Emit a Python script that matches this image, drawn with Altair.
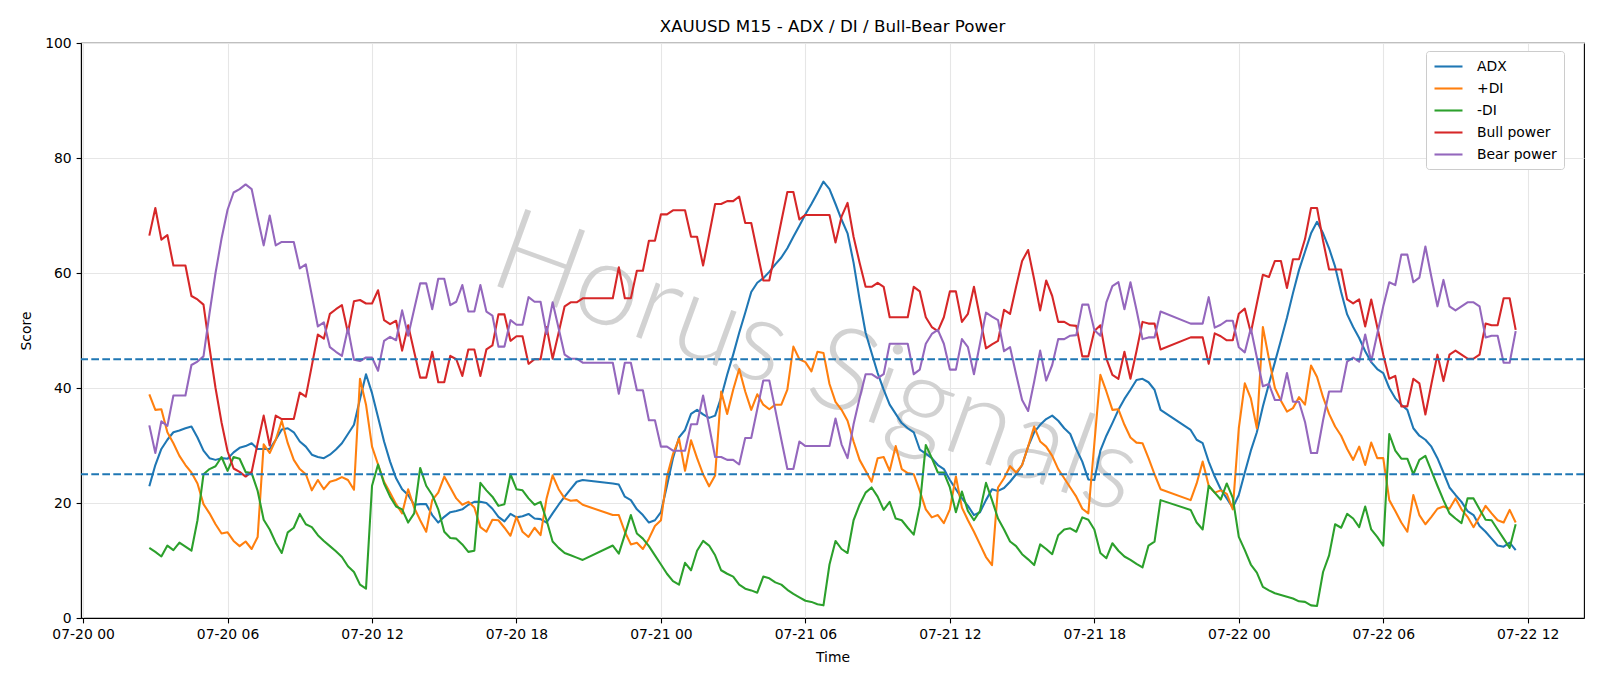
import altair as alt
import pandas as pd

TITLE = "XAUUSD M15 - ADX / DI / Bull-Bear Power"
WATERMARK = "Horus Signals"
SERIES = ["ADX", "+DI", "-DI", "Bull power", "Bear power"]
COLORS = ["#1f77b4", "#ff7f0e", "#2ca02c", "#d62728", "#9467bd"]
# M15 bars, three trading sessions (daily break 21:00-21:45)
SESSIONS = [("2025-07-20 02:45", "2025-07-20 20:45"),
            ("2025-07-20 22:00", "2025-07-21 20:45"),
            ("2025-07-21 22:00", "2025-07-22 11:30")]
LEVELS = [25, 45]
Y_TICKS = [0, 20, 40, 60, 80, 100]
X_TICKS = ["2025-07-20 00:00", "2025-07-20 06:00", "2025-07-20 12:00", "2025-07-20 18:00",
           "2025-07-21 00:00", "2025-07-21 06:00", "2025-07-21 12:00", "2025-07-21 18:00",
           "2025-07-22 00:00", "2025-07-22 06:00", "2025-07-22 12:00"]
X_RANGE = ["2025-07-19 23:54:45", "2025-07-22 14:20:15"]

# one row per hour (:00 :15 :30 :45)
ADX = [
    22.9,
    26.6, 29.4, 31.0, 32.3,
    32.6, 33.0, 33.3, 31.4,
    29.1, 27.8, 27.5, 27.8,
    27.7, 28.8, 29.6, 29.9,
    30.4, 29.4, 29.4, 29.4,
    31.0, 32.8, 33.0, 32.3,
    30.7, 29.8, 28.4, 28.0,
    27.8, 28.4, 29.3, 30.4,
    32.0, 33.6, 38.1, 42.4,
    39.1, 34.9, 30.7, 27.2,
    24.3, 22.4, 21.4, 19.7,
    19.8, 19.8, 17.9, 16.6,
    17.6, 18.4, 18.6, 18.9,
    19.7, 20.2, 20.2, 20.0,
    19.0, 17.6, 16.8, 18.1,
    17.5, 17.7, 18.1, 17.3,
    17.2, 16.6, 18.2, 19.7,
    21.1, 22.4, 23.7, 24.0,
    # session 2
    23.4, 23.2, 21.1, 20.5,
    18.9, 17.9, 16.6, 17.0,
    18.4, 23.0, 27.8, 31.4,
    32.7, 35.5, 36.2, 35.4,
    34.8, 35.2, 38.4, 42.3,
    45.8, 49.6, 53.1, 56.7,
    58.3, 59.1, 60.2, 61.5,
    62.7, 64.3, 66.3, 68.2,
    70.2, 72.0, 73.9, 75.9,
    74.6, 72.0, 69.3, 66.9,
    61.8, 55.4, 49.6, 46.1,
    42.6, 39.7, 37.1, 35.5,
    33.9, 33.0, 32.3, 29.3,
    28.6, 27.8, 26.6, 25.9,
    24.0, 22.4, 20.8, 19.5,
    17.9, 18.4, 20.5, 22.4,
    22.1, 22.6, 23.7, 25.0,
    26.6, 29.8, 32.3, 33.6,
    34.6, 35.2, 34.3, 33.0,
    32.0, 29.4, 27.2, 24.1,
    24.0, 29.1, 31.7, 33.9,
    36.2, 38.1, 39.7, 41.4,
    41.6, 41.0, 39.7, 36.2,
    # session 3
    32.7, 31.0, 30.4, 27.2,
    24.6, 22.4, 20.8, 19.2,
    21.4, 25.3, 29.1, 32.3,
    36.8, 40.7, 44.5, 48.3,
    52.2, 56.5, 60.5, 63.7,
    66.9, 68.9, 66.9, 64.3,
    61.1, 56.7, 52.8, 50.6,
    48.7, 46.4, 44.5, 43.3,
    42.6, 40.0, 38.2, 37.1,
    36.2, 33.0, 31.7, 31.0,
    29.8, 27.8, 25.3, 22.7,
    21.4, 20.2, 18.6, 17.9,
    16.0, 15.0, 13.8, 12.6,
    12.4, 13.1, 11.8,
]

PLUS_DI = [
    38.9,
    36.2, 36.3, 32.3, 30.4,
    28.2, 26.6, 25.3, 23.4,
    19.8, 18.2, 16.3, 14.7,
    14.9, 13.4, 12.5, 13.3,
    12.0, 14.1, 30.2, 28.7,
    31.0, 34.3, 30.4, 27.5,
    25.9, 25.0, 22.2, 24.0,
    22.4, 23.7, 24.0, 24.5,
    24.0, 22.3, 41.6, 37.1,
    29.8, 26.7, 23.7, 21.8,
    19.8, 18.2, 22.4, 19.2,
    17.0, 15.0, 20.5, 21.8,
    24.6, 22.7, 20.8, 19.7,
    20.2, 19.2, 15.8, 15.0,
    17.1, 17.0, 15.7, 14.3,
    17.6, 15.0, 14.1, 15.7,
    14.4, 20.8, 24.8, 22.4,
    20.8, 20.4, 20.5, 19.7,
    # session 2
    17.9, 17.9, 15.0, 12.8,
    13.1, 12.0, 13.8, 16.0,
    17.0, 24.6, 28.5, 31.2,
    25.6, 30.9, 27.8, 25.0,
    22.9, 24.8, 39.4, 35.5,
    39.7, 43.3, 39.4, 36.2,
    38.9, 37.1, 36.3, 37.1,
    37.1, 39.7, 47.2, 45.0,
    44.5, 42.9, 46.3, 46.1,
    40.7, 37.6, 36.2, 34.3,
    30.7, 27.5, 25.6, 23.7,
    27.8, 28.0, 25.6, 29.9,
    25.9, 25.2, 25.0, 22.1,
    18.9, 17.5, 17.9, 16.5,
    18.9, 24.6, 19.2, 17.0,
    15.0, 12.8, 10.6, 9.2,
    22.7, 24.3, 26.4, 25.3,
    26.6, 29.8, 33.3, 30.7,
    29.8, 28.2, 25.9, 24.3,
    22.7, 21.1, 19.0, 18.2,
    30.3, 42.3, 39.4, 36.2,
    36.3, 33.6, 31.4, 30.5,
    30.4, 27.8, 25.0, 22.4,
    # session 3
    20.5, 23.4, 27.2, 23.0,
    21.8, 22.2, 21.6, 18.9,
    33.0, 40.8, 38.2, 33.0,
    50.6, 45.1, 40.0, 37.8,
    35.9, 36.5, 38.4, 37.1,
    43.9, 41.9, 38.4, 35.5,
    33.3, 31.7, 29.4, 27.5,
    29.8, 26.6, 30.5, 27.8,
    27.8, 20.5, 18.6, 16.6,
    15.0, 21.4, 17.9, 16.3,
    17.6, 19.0, 19.4, 19.0,
    20.8, 18.9, 17.6, 15.8,
    17.6, 19.5, 18.2, 17.0,
    16.6, 18.8, 16.6,
]

MINUS_DI = [
    12.2,
    11.5, 10.7, 12.6, 11.8,
    13.1, 12.4, 11.7, 17.0,
    25.0, 25.9, 26.4, 28.0,
    25.6, 28.0, 27.7, 25.4,
    25.2, 22.1, 17.1, 15.4,
    13.1, 11.3, 14.9, 15.7,
    18.1, 16.3, 15.8, 14.4,
    13.4, 12.5, 11.6, 10.6,
    9.0, 8.0, 5.8, 5.1,
    23.0, 26.7, 23.4, 21.1,
    19.4, 18.9, 16.6, 18.2,
    26.1, 23.0, 21.4, 18.9,
    15.0, 13.9, 13.8, 12.8,
    11.5, 11.7, 23.5, 22.2,
    21.1, 19.5, 19.8, 25.0,
    22.4, 22.2, 20.8, 19.7,
    20.2, 17.0, 13.3, 12.2,
    11.3, 10.9, 10.5, 10.1,
    # session 2
    12.6, 11.2, 14.5, 17.9,
    14.7, 13.8, 12.5, 10.9,
    9.3, 7.7, 6.4, 5.8,
    9.6, 8.3, 11.7, 13.4,
    12.6, 10.9, 8.3, 7.7,
    7.2, 5.8, 5.1, 4.8,
    4.4, 7.2, 6.9, 6.2,
    5.8, 4.9, 4.2, 3.6,
    3.0, 2.8, 2.4, 2.2,
    9.3, 13.4, 12.0, 11.3,
    17.0, 19.7, 21.8, 22.7,
    21.1, 18.8, 20.2, 17.3,
    17.0, 15.7, 14.5, 19.5,
    30.1, 27.8, 25.3, 25.3,
    22.7, 18.4, 22.0, 18.6,
    17.0, 18.6, 23.5, 20.5,
    17.3, 15.4, 13.3, 12.5,
    11.1, 10.2, 9.2, 12.8,
    12.0, 11.1, 14.4, 15.4,
    15.6, 15.0, 17.5, 17.1,
    15.4, 11.3, 10.4, 13.0,
    11.7, 10.7, 10.1, 9.4,
    8.8, 12.6, 13.3, 20.5,
    # session 3
    18.8, 16.6, 15.4, 23.0,
    21.8, 20.6, 23.4, 20.9,
    14.1, 11.8, 9.3, 7.9,
    5.4, 4.8, 4.3, 4.0,
    3.7, 3.4, 2.9, 2.8,
    2.2, 2.1, 8.0, 10.9,
    16.3, 15.7, 18.1, 17.3,
    15.8, 19.4, 15.4, 14.1,
    12.6, 32.0, 29.1, 27.7,
    27.7, 25.0, 27.5, 28.2,
    25.6, 23.0, 20.5, 18.2,
    17.3, 16.5, 20.8, 20.8,
    18.9, 17.1, 17.0, 15.4,
    13.8, 12.2, 16.3,
]

BULL = [
    66.5,
    71.3, 65.8, 66.6, 61.3,
    61.3, 61.3, 56.0, 55.4,
    54.5, 47.0, 40.0, 34.0,
    29.0, 26.0, 25.4, 24.6,
    25.4, 30.4, 35.2, 30.0,
    35.2, 34.6, 34.6, 34.6,
    39.2, 38.5, 43.9, 49.3,
    48.6, 52.9, 53.7, 54.4,
    49.6, 55.1, 55.3, 54.7,
    54.7, 57.0, 51.8, 51.1,
    51.7, 46.5, 50.9, 46.3,
    41.8, 41.8, 46.3, 41.0,
    41.0, 45.6, 45.0, 42.1,
    46.7, 46.7, 42.1, 46.7,
    47.4, 52.8, 52.8, 48.2,
    49.0, 49.0, 44.2, 45.0,
    45.0, 50.6, 45.1, 49.6,
    54.2, 54.9, 54.9, 55.6,
    # session 2
    55.6, 61.0, 55.6, 55.6,
    60.4, 60.4, 65.6, 65.6,
    70.2, 70.2, 70.9, 70.9,
    70.9, 66.3, 66.3, 61.3,
    66.6, 72.0, 72.0, 72.5,
    72.5, 73.3, 68.7, 68.7,
    63.7, 58.7, 58.7, 63.8,
    69.0, 74.1, 74.1, 69.3,
    70.1, 70.1, 70.1, 70.1,
    70.1, 65.3, 69.8, 72.2,
    66.3, 61.8, 57.6, 57.6,
    58.3, 57.6, 52.3, 52.3,
    52.3, 52.3, 57.6, 56.8,
    52.3, 50.6, 49.9, 52.3,
    56.8, 56.8, 51.5, 52.9,
    57.6, 52.3, 46.9, 47.6,
    48.2, 53.6, 52.9, 57.6,
    62.1, 64.0, 58.9, 53.5,
    58.7, 56.0, 51.5, 51.5,
    50.9, 50.8, 45.5, 45.5,
    49.9, 50.9, 45.1, 42.3,
    41.6, 46.3, 41.6, 46.4,
    51.5, 51.2, 51.2, 46.7,
    # session 3
    48.8, 48.8, 48.8, 44.2,
    49.5, 49.0, 48.3, 48.3,
    52.9, 53.8, 49.6, 54.7,
    59.7, 59.3, 62.1, 62.1,
    57.4, 62.4, 62.4, 65.9,
    71.3, 71.3, 65.6, 60.6,
    60.6, 60.6, 55.4, 54.7,
    55.4, 50.7, 55.4, 50.6,
    45.8, 41.6, 42.1, 36.8,
    36.8, 41.6, 40.8, 35.4,
    40.7, 45.8, 41.2, 45.8,
    46.5, 45.8, 45.1, 45.1,
    45.8, 51.2, 50.9, 50.9,
    55.6, 55.6, 50.1,
]

BEAR = [
    33.5,
    28.7, 34.2, 33.4, 38.7,
    38.7, 38.7, 44.0, 44.6,
    45.5, 53.0, 60.0, 66.0,
    71.0, 74.0, 74.6, 75.4,
    74.6, 69.6, 64.8, 70.0,
    64.8, 65.4, 65.4, 65.4,
    60.8, 61.5, 56.1, 50.7,
    51.4, 47.1, 46.3, 45.6,
    50.4, 44.9, 44.7, 45.3,
    45.3, 43.0, 48.2, 48.9,
    48.3, 53.5, 49.1, 53.7,
    58.2, 58.2, 53.7, 59.0,
    59.0, 54.4, 55.0, 57.9,
    53.3, 53.3, 57.9, 53.3,
    52.6, 47.2, 47.2, 51.8,
    51.0, 51.0, 55.8, 55.0,
    55.0, 49.4, 54.9, 50.4,
    45.8, 45.1, 45.1, 44.4,
    # session 2
    44.4, 39.0, 44.4, 44.4,
    39.6, 39.6, 34.4, 34.4,
    29.8, 29.8, 29.1, 29.1,
    29.1, 33.7, 33.7, 38.7,
    33.4, 28.0, 28.0, 27.5,
    27.5, 26.7, 31.3, 31.3,
    36.3, 41.3, 41.3, 36.2,
    31.0, 25.9, 25.9, 30.7,
    29.9, 29.9, 29.9, 29.9,
    29.9, 34.7, 30.2, 27.8,
    33.7, 38.2, 42.4, 42.4,
    41.7, 42.4, 47.7, 47.7,
    47.7, 47.7, 42.4, 43.2,
    47.7, 49.4, 50.1, 47.7,
    43.2, 43.2, 48.5, 47.1,
    42.4, 47.7, 53.1, 52.4,
    51.8, 46.4, 47.1, 42.4,
    37.9, 36.0, 41.1, 46.5,
    41.3, 44.0, 48.5, 48.5,
    49.1, 49.2, 54.5, 54.5,
    50.1, 49.1, 54.9, 57.7,
    58.4, 53.7, 58.4, 53.6,
    48.5, 48.8, 48.8, 53.3,
    # session 3
    51.2, 51.2, 51.2, 55.8,
    50.5, 51.0, 51.7, 51.7,
    47.1, 46.2, 50.4, 45.3,
    40.3, 40.7, 37.9, 37.9,
    42.6, 37.6, 37.6, 34.1,
    28.7, 28.7, 34.4, 39.4,
    39.4, 39.4, 44.6, 45.3,
    44.6, 49.3, 44.6, 49.4,
    54.2, 58.4, 57.9, 63.2,
    63.2, 58.4, 59.2, 64.6,
    59.3, 54.2, 58.8, 54.2,
    53.5, 54.2, 54.9, 54.9,
    54.2, 48.8, 49.1, 49.1,
    44.4, 44.4, 49.9,
]


def ms(s):
    return int(pd.Timestamp(s, tz="UTC").value // 10**6)


times = []
for a, b in SESSIONS:
    times.extend(pd.date_range(a, b, freq="15min"))

rows = []
for name, vals in zip(SERIES, [ADX, PLUS_DI, MINUS_DI, BULL, BEAR]):
    if len(vals) != len(times):
        print("length mismatch", name, len(vals), len(times))
    for t, v in zip(times, vals):
        rows.append({"time": t.strftime("%Y-%m-%dT%H:%M:%SZ"), "value": v, "series": name})
df = pd.DataFrame(rows)

x_scale = alt.Scale(type="utc", domain=[ms(X_RANGE[0]), ms(X_RANGE[1])])
y_scale = alt.Scale(domain=[0, 100], nice=False, zero=True)

watermark = alt.Chart(pd.DataFrame({"text": [WATERMARK]})).mark_text(
    angle=20, fontSize=116, font="Lato", fontWeight=300, color="#cbcbcb",
    opacity=0.85, align="center", baseline="middle"
).encode(text="text:N", x=alt.value(735), y=alt.value(322))

lines = alt.Chart(df).mark_line(strokeWidth=2.08, strokeJoin="round").encode(
    x=alt.X("time:T", scale=x_scale,
            axis=alt.Axis(title="Time", values=[ms(s) for s in X_TICKS], format="%m-%d %H",
                          labelFlush=False, titlePadding=9)),
    y=alt.Y("value:Q", scale=y_scale,
            axis=alt.Axis(title="Score", values=Y_TICKS, format="d", titlePadding=11)),
    color=alt.Color("series:N", sort=SERIES,
                    scale=alt.Scale(domain=SERIES, range=COLORS),
                    legend=alt.Legend(title=None, orient="none", legendX=1345, legendY=8,
                                      direction="vertical", symbolType="M-1,0H3",
                                      symbolSize=196, symbolStrokeWidth=2.08,
                                      labelFont="DejaVu Sans", labelFontSize=13.9,
                                      labelColor="black", labelOffset=27, padding=7,
                                      rowPadding=6, strokeColor="#cccccc",
                                      fillColor="white", cornerRadius=3)),
)

rules = alt.Chart(pd.DataFrame({"level": LEVELS})).mark_rule(
    color="#1f77b4", strokeWidth=2.08, strokeDash=[7.7, 3.3]
).encode(y=alt.Y("level:Q", scale=y_scale))

chart = alt.layer(watermark, lines, rules).properties(
    width=1503, height=575,
    title=alt.TitleParams(TITLE, fontSize=16.7, font="DejaVu Sans", fontWeight="normal",
                          color="black", anchor="middle", offset=10.5, baseline="alphabetic",
                          dy=23),
    autosize=alt.AutoSizeParams(type="none"),
    padding={"left": 81, "top": 43, "right": 16, "bottom": 68},
    background="white",
).configure_view(stroke="black", strokeWidth=1.1).configure_axis(
    labelFont="DejaVu Sans", labelFontSize=13.9, labelColor="black",
    titleFont="DejaVu Sans", titleFontSize=13.9, titleFontWeight="normal", titleColor="black",
    tickColor="black", tickSize=4.9, tickWidth=1.1, labelPadding=4.9,
    domainColor="black", domainWidth=1.1, gridColor="#e6e6e6", gridWidth=1.1,
)

chart.save("out.html", embed_options={"renderer": "svg", "actions": False})
